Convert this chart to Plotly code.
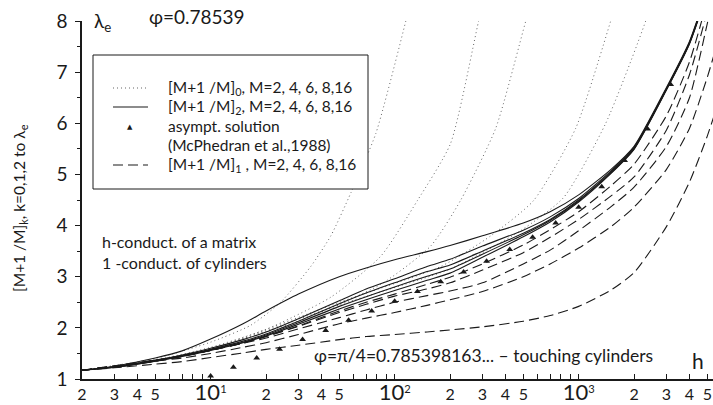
import plotly.graph_objects as go

# ---------------- data ----------------
# common h grid for the k=1 and k=2 approximant families
h_grid = [2, 3, 5, 7, 10, 15, 20, 30, 50, 70, 100, 150, 200, 300, 500, 700,
          1000, 1500, 2000, 3000, 4000, 5000, 5500]

# [M+1/M]_2 (solid), M = 2, 4, 6, 8, 16
k2_M2 = [1.17, 1.25, 1.41, 1.55, 1.78, 2.08, 2.33, 2.66, 3.00, 3.17, 3.33, 3.49,
         3.61, 3.80, 4.05, 4.27, 4.60, 5.10, 5.55, 6.70, 7.60, 8.60, 9.0]
k2_M4 = [1.17, 1.24, 1.37, 1.47, 1.60, 1.77, 1.92, 2.18, 2.53, 2.76, 2.96, 3.20,
         3.34, 3.60, 3.91, 4.17, 4.53, 5.07, 5.53, 6.68, 7.58, 8.58, 9.0]
k2_M6 = [1.17, 1.23, 1.36, 1.46, 1.58, 1.74, 1.88, 2.13, 2.47, 2.68, 2.88, 3.10,
         3.23, 3.50, 3.85, 4.12, 4.50, 5.05, 5.51, 6.67, 7.57, 8.57, 9.0]
k2_M8 = [1.17, 1.23, 1.35, 1.45, 1.57, 1.72, 1.86, 2.10, 2.42, 2.61, 2.80, 3.01,
         3.15, 3.44, 3.82, 4.10, 4.48, 5.03, 5.50, 6.66, 7.56, 8.56, 9.0]
k2_M16 = [1.17, 1.23, 1.35, 1.44, 1.56, 1.71, 1.84, 2.07, 2.37, 2.55, 2.73, 2.93,
          3.07, 3.38, 3.78, 4.07, 4.46, 5.02, 5.49, 6.65, 7.55, 8.55, 9.0]

# [M+1/M]_1 (dashed), M = 2, 4, 6, 8, 16
k1_M2 = [1.17, 1.22, 1.29, 1.34, 1.42, 1.51, 1.58, 1.66, 1.77, 1.83, 1.87, 1.92,
         1.96, 2.02, 2.13, 2.24, 2.42, 2.74, 3.08, 3.98, 4.85, 5.75, 6.20]
k1_M4 = [1.17, 1.25, 1.35, 1.41, 1.50, 1.62, 1.71, 1.87, 2.08, 2.19, 2.30, 2.44,
         2.55, 2.71, 3.00, 3.25, 3.56, 3.98, 4.36, 5.10, 5.90, 6.90, 7.40]
k1_M6 = [1.17, 1.26, 1.37, 1.45, 1.56, 1.70, 1.80, 1.98, 2.20, 2.35, 2.50, 2.63,
         2.72, 2.88, 3.25, 3.52, 3.90, 4.37, 4.75, 5.55, 6.50, 7.95, 8.60]
k1_M8 = [1.17, 1.25, 1.36, 1.45, 1.56, 1.71, 1.83, 2.03, 2.30, 2.46, 2.62, 2.76,
         2.88, 3.13, 3.47, 3.77, 4.12, 4.58, 4.95, 5.87, 6.95, 8.20, 8.90]
k1_M16 = [1.17, 1.24, 1.35, 1.44, 1.56, 1.70, 1.83, 2.04, 2.33, 2.50, 2.66, 2.85,
          2.99, 3.25, 3.62, 3.92, 4.27, 4.78, 5.20, 6.15, 7.20, 8.40, 9.00]

# [M+1/M]_0 (dotted), M = 2, 4, 6, 8, 16 -- each on its own h points
k0_M2_h = [2, 5, 10, 16.5, 24, 35, 45, 58, 79, 115, 138]
k0_M2 = [1.17, 1.40, 1.72, 2.05, 2.50, 3.20, 3.80, 4.65, 5.80, 8.00, 9.20]
k0_M4_h = [2, 5, 10, 20, 45, 84, 133, 201, 286, 333]
k0_M4 = [1.17, 1.37, 1.62, 1.97, 2.60, 3.40, 4.49, 5.60, 8.00, 9.00]
k0_M6_h = [2, 5, 10, 31, 84, 157, 228, 354, 516, 621]
k0_M6 = [1.17, 1.36, 1.60, 2.15, 2.85, 3.60, 4.49, 5.90, 8.00, 9.00]
k0_M8_h = [2, 5, 10, 50, 178, 333, 569, 963, 1493, 1798]
k0_M8 = [1.17, 1.36, 1.59, 2.50, 3.20, 3.80, 4.49, 5.90, 8.00, 9.00]
k0_M16_h = [2, 5, 10, 50, 200, 484, 829, 1403, 2313, 2793]
k0_M16 = [1.17, 1.35, 1.58, 2.45, 3.15, 3.90, 4.55, 6.00, 8.00, 9.00]

# asymptotic solution (McPhedran et al., 1988), triangles
asym_h = [10, 13.3, 17.8, 23.7, 31.6, 42.2, 56.2, 75.0, 100, 133, 178, 237,
          316, 422, 562, 750, 1000, 1334, 1778, 2371, 3162]
asym_l = [1.06, 1.23, 1.41, 1.58, 1.77, 1.95, 2.15, 2.33, 2.52, 2.71, 2.90,
          3.09, 3.30, 3.53, 3.77, 4.05, 4.36, 4.76, 5.27, 5.89, 6.76]

# axis ticks
BIG = '<span style="font-size:22px">10</span><sup>{}</sup>'
x_tickvals = [2, 3, 4, 5, 10, 20, 30, 40, 50, 100, 200, 300, 400, 500,
              1000, 2000, 3000, 4000, 5000]
x_ticktext = ["2", "3", "4", "5", BIG.format(1), "2", "3", "4", "5",
              BIG.format(2), "2", "3", "4", "5", BIG.format(3),
              "2", "3", "4", "5"]
x_minorvals = [6, 7, 8, 9, 60, 70, 80, 90, 600, 700, 800, 900]
x_decades = [10, 100, 1000]
y_tickvals = [1, 2, 3, 4, 5, 6, 7, 8]
y_minorvals = [1.5, 2.5, 3.5, 4.5, 5.5, 6.5, 7.5]

# legend entries (manual legend box)
legend_labels = ["[M+1 /M]<sub>0</sub>, M=2, 4, 6, 8,16",
                 "[M+1 /M]<sub>2</sub>, M=2, 4, 6, 8,16",
                 "asympt. solution",
                 "(McPhedran et al.,1988)",
                 "[M+1 /M]<sub>1</sub> , M=2, 4, 6, 8,16"]

FONT = "Lato, 'DejaVu Sans', sans-serif"
INK = "#1a1a1a"
DOTC = "#666666"
DOT = "1px,3px"
DASH = "10px,5px"

fig = go.Figure()

dotted = [(k0_M2_h, k0_M2), (k0_M4_h, k0_M4), (k0_M6_h, k0_M6),
          (k0_M8_h, k0_M8), (k0_M16_h, k0_M16)]
for hx, ly in dotted:
    fig.add_trace(go.Scatter(
        x=hx, y=ly, mode="lines",
        line=dict(color=DOTC, width=1, dash=DOT, shape="spline", smoothing=0.6),
        showlegend=False))

for ly in [k2_M2, k2_M4, k2_M6, k2_M8, k2_M16]:
    fig.add_trace(go.Scatter(
        x=h_grid, y=ly, mode="lines",
        line=dict(color=INK, width=1.1, shape="spline", smoothing=0.6),
        showlegend=False))

fig.add_trace(go.Scatter(
    x=asym_h, y=asym_l, mode="markers",
    marker=dict(symbol="triangle-up", size=6, color=INK), showlegend=False))

for ly in [k1_M2, k1_M4, k1_M6, k1_M8, k1_M16]:
    fig.add_trace(go.Scatter(
        x=h_grid, y=ly, mode="lines",
        line=dict(color=INK, width=1.1, dash=DASH, shape="spline", smoothing=0.6),
        showlegend=False))

xrange = [0.301, 3.730]

fig.update_layout(
    width=713, height=405,
    margin=dict(l=82, r=0, t=21, b=26),
    paper_bgcolor="white", plot_bgcolor="white",
    font=dict(family=FONT, color=INK, size=15),
    showlegend=False,
    xaxis=dict(type="log", range=xrange, showgrid=False, zeroline=False,
               showline=True, linecolor=INK, linewidth=1.5,
               ticks="inside", ticklen=5, tickwidth=1, tickcolor=INK,
               tickmode="array", tickvals=x_tickvals, ticktext=x_ticktext,
               tickfont=dict(size=16, family=FONT),
               minor=dict(tickvals=x_minorvals, ticks="inside", ticklen=5,
                          tickwidth=1, tickcolor=INK)),
    xaxis2=dict(type="log", range=xrange, overlaying="x", anchor="y", side="bottom",
                showgrid=False, zeroline=False, showline=False,
                ticks="inside", ticklen=9, tickwidth=1, tickcolor=INK,
                tickmode="array", tickvals=x_decades, showticklabels=False),
    yaxis=dict(range=[1, 8], showgrid=False, zeroline=False,
               showline=True, linecolor=INK, linewidth=1.5,
               ticks="outside", ticklen=5, tickwidth=1, tickcolor=INK,
               tickmode="array", tickvals=y_tickvals,
               tickfont=dict(size=19, family=FONT), ticklabelstandoff=4,
               minor=dict(tickvals=y_minorvals, ticks="outside", ticklen=3,
                          tickwidth=1, tickcolor=INK)),
)

# helpers: pixel position inside the 713x405 page -> paper coordinates
L, T, B, W = 82, 21, 379, 631
def px(x):
    return (x - L) / W
def py(y):
    return (B - y) / (B - T)

# manual legend box
fig.add_shape(type="rect", xref="paper", yref="paper",
              x0=px(93), x1=px(368), y0=py(189), y1=py(55),
              line=dict(color=INK, width=1), fillcolor="white", layer="above")
rows = [88, 107, 126, 145, 165]
for yy, dash in [(rows[0], DOT), (rows[1], "solid"), (rows[4], DASH)]:
    fig.add_shape(type="line", xref="paper", yref="paper",
                  x0=px(113), x1=px(148), y0=py(yy), y1=py(yy), layer="above",
                  line=dict(color=DOTC if dash == DOT else INK, width=1.1, dash=dash))
fig.add_annotation(xref="paper", yref="paper", x=px(130), y=py(rows[2]),
                   text="▲", showarrow=False, font=dict(size=7, color=INK),
                   xanchor="center", yanchor="middle")
for yy, lab in zip(rows, legend_labels):
    fig.add_annotation(xref="paper", yref="paper", x=px(166), y=py(yy),
                       text=lab, showarrow=False, font=dict(size=15.5),
                       xanchor="left", yanchor="middle")

ann = [
    dict(text="λ<sub>e</sub>", x=px(102), y=py(22), font=dict(size=19)),
    dict(text="φ=0.78539", x=px(197), y=py(16), font=dict(size=19)),
    dict(text="h-conduct. of a matrix", x=px(100), y=py(241), xanchor="left",
         font=dict(size=16)),
    dict(text="1 -conduct. of cylinders", x=px(100), y=py(262), xanchor="left",
         font=dict(size=16)),
    dict(text="φ=π/4=0.785398163... – touching cylinders", x=px(312), y=py(355),
         xanchor="left", font=dict(size=17.5)),
    dict(text="h", x=px(698), y=py(360), font=dict(size=21)),
    dict(text="[M+1 /M]<sub>k</sub>, k=0,1,2 to λ<sub>e</sub>", x=px(20), y=py(208),
         textangle=-90, font=dict(size=15.5)),
]
for a in ann:
    a.setdefault("xanchor", "center")
    fig.add_annotation(xref="paper", yref="paper", showarrow=False,
                       yanchor="middle", **a)

fig.write_html("out.html")
